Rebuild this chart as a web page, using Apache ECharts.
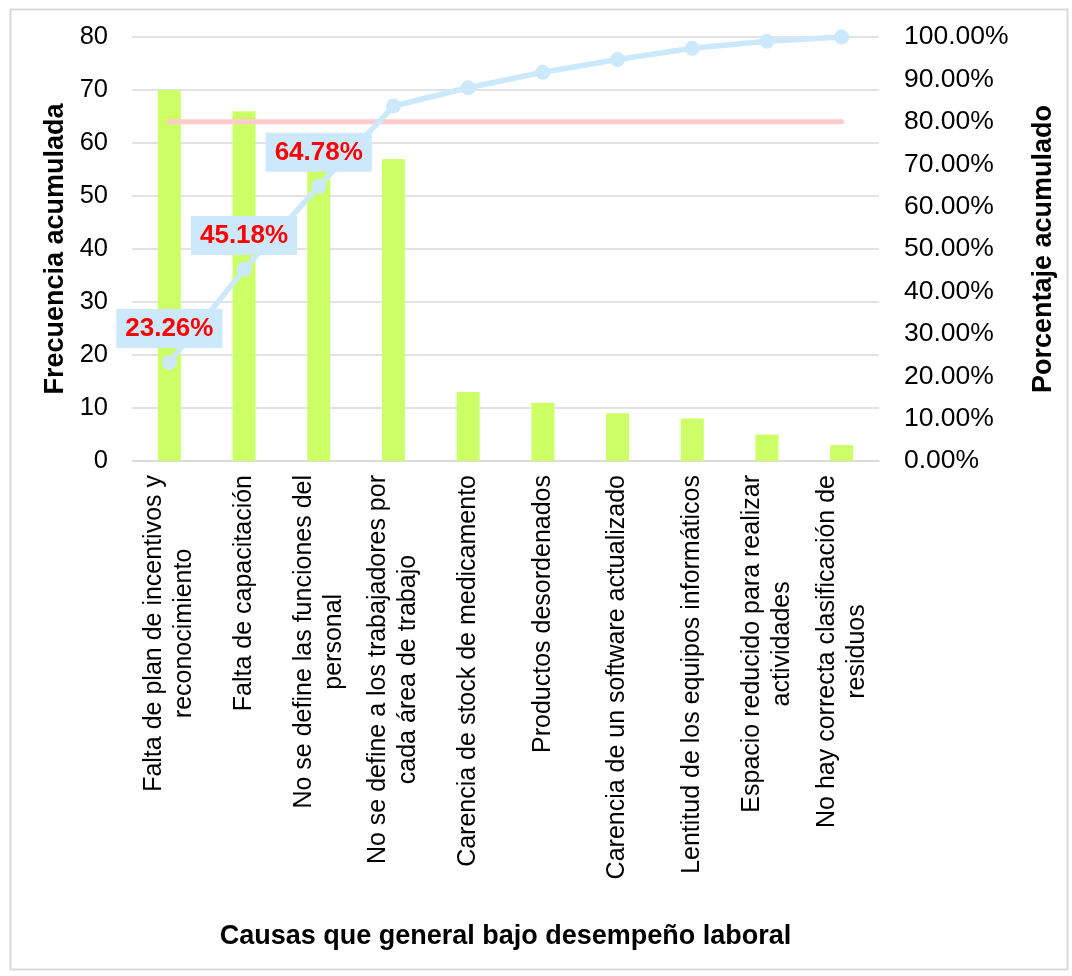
<!DOCTYPE html>
<html>
<head>
<meta charset="utf-8">
<script src="https://cdn.jsdelivr.net/npm/echarts@6/dist/echarts.min.js"></script>
<style>
html,body{margin:0;padding:0;background:#fff;}
#chart{width:1072px;height:976px;}
</style>
</head>
<body>
<div id="chart"></div>
<script>
const categories = [
  "Falta de plan de incentivos y\nreconocimiento",
  "Falta de capacitación",
  "No se define las funciones del\npersonal",
  "No se define a los trabajadores por\ncada área de trabajo",
  "Carencia de stock de medicamento",
  "Productos desordenados",
  "Carencia de un software actualizado",
  "Lentitud de los equipos informáticos",
  "Espacio reducido para realizar\nactividades",
  "No hay correcta clasificación de\nresiduos"
];
const frequency = [70, 66, 59, 57, 13, 11, 9, 8, 5, 3];
const cumulativePct = [23.26, 45.18, 64.78, 83.72, 88.04, 91.69, 94.68, 97.34, 99.00, 100.00];
const thresholdPct = [80, 80, 80, 80, 80, 80, 80, 80, 80, 80];
const labelledPoints = [0, 1, 2];
const leftTicks = { min: 0, max: 80, interval: 10 };
const rightTicks = { min: 0, max: 100, interval: 10 };

const FONT = "'Liberation Sans', Arial, sans-serif";
const chart = echarts.init(document.getElementById('chart'));
chart.setOption({
  backgroundColor: '#ffffff',
  animation: false,
  graphic: [{
    type: 'rect', left: 8, top: 7, z: -10,
    shape: { width: 1057, height: 960 },
    style: { fill: 'none', stroke: '#d9d9d9', lineWidth: 2 }
  }],
  grid: { left: 132, right: 193, top: 37, bottom: 515 },
  xAxis: {
    type: 'category',
    data: categories,
    boundaryGap: true,
    name: 'Causas que general bajo desempeño laboral',
    nameLocation: 'middle',
    nameGap: 462,
    nameTextStyle: { fontFamily: FONT, fontSize: 27, fontWeight: 'bold', color: '#000' },
    axisLine: { show: true, lineStyle: { color: '#d9d9d9', width: 1.5 } },
    axisTick: { show: false },
    axisLabel: {
      interval: 0,
      rotate: 90,
      margin: 14,
      color: '#000',
      fontFamily: FONT,
      fontSize: 25,
      lineHeight: 30,
      formatter: v => v.split('\n').map(s => '{c|' + s + '}').join('\n'),
      rich: { c: { align: 'center', fontFamily: FONT, fontSize: 25, lineHeight: 30, color: '#000' } }
    }
  },
  yAxis: [{
    type: 'value',
    min: leftTicks.min, max: leftTicks.max, interval: leftTicks.interval,
    name: 'Frecuencia acumulada',
    nameLocation: 'middle',
    nameGap: 60,
    nameTextStyle: { fontFamily: FONT, fontSize: 27, fontWeight: 'bold', color: '#000' },
    axisLine: { show: false },
    axisTick: { show: false },
    axisLabel: { margin: 24, color: '#000', fontFamily: FONT, fontSize: 25.5 },
    splitLine: { show: true, lineStyle: { color: '#d9d9d9', width: 1.5 } }
  }, {
    type: 'value',
    min: rightTicks.min, max: rightTicks.max, interval: rightTicks.interval,
    name: 'Porcentaje acumulado',
    nameLocation: 'middle',
    nameGap: 151,
    nameTextStyle: { fontFamily: FONT, fontSize: 27, fontWeight: 'bold', color: '#000' },
    axisLine: { show: false },
    axisTick: { show: false },
    axisLabel: { margin: 25, color: '#000', fontFamily: FONT, fontSize: 26.5, formatter: v => v.toFixed(2) + '%' },
    splitLine: { show: false }
  }],
  series: [{
    type: 'bar',
    data: frequency,
    barWidth: 23,
    itemStyle: { color: '#ccff66' },
    z: 2
  }, {
    type: 'line',
    yAxisIndex: 1,
    data: thresholdPct,
    symbol: 'none',
    lineStyle: { color: '#ffcccc', width: 5, cap: 'round' },
    z: 3
  }, {
    type: 'line',
    yAxisIndex: 1,
    data: cumulativePct.map((v, i) => ({ value: v, label: { show: labelledPoints.includes(i) } })),
    symbol: 'circle',
    symbolSize: 15,
    itemStyle: { color: '#cce9fb' },
    lineStyle: { color: '#cce9fb', width: 5.5 },
    z: 4,
    label: {
      position: 'top',
      distance: 7,
      formatter: p => p.value.toFixed(2) + '%',
      color: '#ff0000',
      fontFamily: FONT,
      fontWeight: 'bold',
      fontSize: 26,
      lineHeight: 30,
      backgroundColor: '#cce9fb',
      padding: [5, 9, 4, 9]
    }
  }]
});
</script>
</body>
</html>
